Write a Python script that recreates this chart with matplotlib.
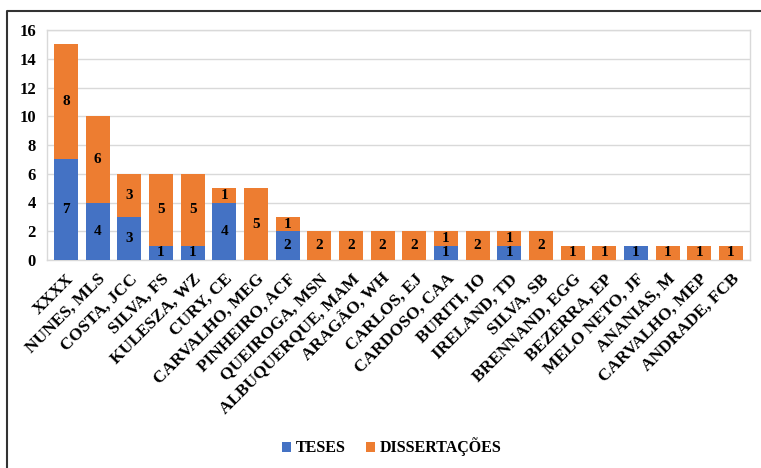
import matplotlib.pyplot as plt
import numpy as np
from matplotlib.lines import Line2D

# Data
authors = [
    'XXXX', 'NUNES, MLS', 'COSTA, JCC', 'SILVA, FS', 'KULESZA, WZ', 'CURY, CE',
    'CARVALHO, MEG', 'PINHEIRO, ACF', 'QUEIROGA, MSN', 'ALBUQUERQUE, MAM',
    'ARAGÃO, WH', 'CARLOS, EJ', 'CARDOSO, CAA', 'BURITI, IO', 'IRELAND, TD',
    'SILVA, SB', 'BRENNAND, EGG', 'BEZERRA, EP', 'MELO NETO, JF', 'ANANIAS, M',
    'CARVALHO, MEP', 'ANDRADE, FCB'
]
teses = [7, 4, 3, 1, 1, 4, 0, 2, 0, 0, 0, 0, 1, 0, 1, 0, 0, 0, 1, 0, 0, 0]
dissertacoes = [8, 6, 3, 5, 5, 1, 5, 1, 2, 2, 2, 2, 1, 2, 1, 2, 1, 1, 0, 1, 1, 1]

blue = '#4472C4'
orange = '#ED7D31'

plt.rcParams['font.family'] = ['Liberation Serif', 'DejaVu Serif']
plt.rcParams['font.weight'] = 'bold'

W, H = 761, 468
fig = plt.figure(figsize=(W / 100, H / 100), dpi=100)
ax = fig.add_axes([47 / W, (H - 260) / H, (750 - 47) / W, (260 - 30) / H])

x = np.arange(len(authors))
ax.bar(x, teses, width=0.75, color=blue, label='TESES', zorder=3)
ax.bar(x, dissertacoes, width=0.75, bottom=teses, color=orange,
       label='DISSERTAÇÕES', zorder=3)

# value labels in the middle of each segment
for i in range(len(authors)):
    if teses[i] > 0:
        ax.text(x[i], teses[i] / 2, str(teses[i]), ha='center', va='center',
                fontsize=11, fontweight='bold', zorder=4)
    if dissertacoes[i] > 0:
        ax.text(x[i], teses[i] + dissertacoes[i] / 2, str(dissertacoes[i]),
                ha='center', va='center', fontsize=11, fontweight='bold', zorder=4)

ax.set_ylim(0, 16)
ax.set_yticks(range(0, 17, 2))
ax.set_xlim(-0.6, len(authors) - 0.4)
ax.set_xticks(x)
ax.set_xticklabels(authors, rotation=45, ha='right', rotation_mode='anchor',
                   fontsize=12.5, fontweight='bold')
ax.tick_params(axis='both', length=0)
ax.tick_params(axis='y', labelsize=12, pad=8)
ax.tick_params(axis='x', pad=8)
ax.grid(axis='y', color='#d9d9d9', linewidth=1, zorder=0)
for s in ax.spines.values():
    s.set_color('#d9d9d9')
    s.set_linewidth(1)

ax.legend(loc='center', bbox_to_anchor=(392 / W, 1 - 447 / H), bbox_transform=fig.transFigure,
          ncol=2, frameon=False, fontsize=11.5, handlelength=0.55, handleheight=0.55,
          handletextpad=0.3, columnspacing=1.3)

# outer frame (top and left edges visible)
fig.add_artist(Line2D([7 / W, 7 / W, 1], [0, 1 - 11 / H, 1 - 11 / H],
                      transform=fig.transFigure, color='#333333', linewidth=1.5))

fig.savefig('out.png', dpi=100)
